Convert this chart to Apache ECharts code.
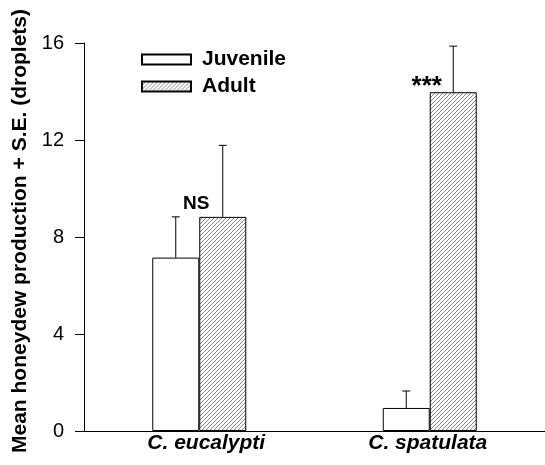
<!DOCTYPE html>
<html>
<head>
<meta charset="utf-8">
<script src="https://cdn.jsdelivr.net/npm/echarts@6/dist/echarts.min.js"></script>
<style>
  html, body { margin: 0; padding: 0; background: #fff; }
  #chart { width: 545px; height: 465px; }
</style>
</head>
<body>
<div id="chart"></div>
<script>
var categories = ['C. eucalypti', 'C. spatulata'];
var juvenile = [7.15, 0.95];
var juvenileSE = [1.68, 0.7];
var adult = [8.83, 13.97];
var adultSE = [2.95, 1.9];
var annotations = [[0, 9.35, 'NS', 19], [1, 14.2, '***', 26]];

// hatch pattern for the adult bars
var hatch = document.createElement('canvas');
hatch.width = 4;
hatch.height = 4;
var hc = hatch.getContext('2d');
hc.fillStyle = '#fff';
hc.fillRect(0, 0, 4, 4);
hc.strokeStyle = '#888';
hc.lineWidth = 1;
hc.beginPath();
hc.moveTo(-1, 5); hc.lineTo(5, -1);
hc.moveTo(-1, 1); hc.lineTo(1, -1);
hc.moveTo(3, 5); hc.lineTo(5, 3);
hc.stroke();

var chart = echarts.init(document.getElementById('chart'));
var barW = 47;
var font = 'Arial, Liberation Sans, sans-serif';

function errorSeries(means, ses, offset) {
    var data = [];
    for (var i = 0; i < means.length; i++) {
        data.push([i, means[i], means[i] + ses[i]]);
    }
    return {
        type: 'custom',
        z: 5,
        data: data,
        renderItem: function (params, api) {
            var lo = api.coord([api.value(0), api.value(1)]);
            var hi = api.coord([api.value(0), api.value(2)]);
            var x = lo[0] + offset;
            return {
                type: 'group',
                children: [
                    {type: 'line', shape: {x1: x, y1: lo[1], x2: x, y2: hi[1]}, style: {stroke: '#000', lineWidth: 1}},
                    {type: 'line', shape: {x1: x - 4, y1: hi[1], x2: x + 4, y2: hi[1]}, style: {stroke: '#000', lineWidth: 1}}
                ]
            };
        }
    };
}

// the labels in the original are not quite centred under the groups
var labelPad = [[0, 0, 0, 14], [0, 4, 0, 0]];
var xData = categories.map(function (c, i) {
    return {value: c, textStyle: {padding: labelPad[i]}};
});

chart.setOption({
    animation: false,
    backgroundColor: '#fff',
    grid: {left: 84, right: 0, top: 43, bottom: 34, outerBoundsMode: 'none', containLabel: false},
    legend: {
        orient: 'vertical',
        left: 136,
        top: 44,
        icon: 'rect',
        itemWidth: 49,
        itemHeight: 10,
        itemGap: 6,
        textStyle: {fontFamily: font, fontWeight: 'bold', fontSize: 21, color: '#000', padding: [0, 0, 0, 6]},
        data: ['Juvenile', 'Adult']
    },
    xAxis: {
        type: 'category',
        data: xData,
        axisLine: {lineStyle: {color: '#000', width: 1}},
        axisTick: {show: false},
        axisLabel: {fontFamily: font, fontWeight: 'bold', fontStyle: 'italic', fontSize: 21, color: '#000', margin: 2}
    },
    yAxis: {
        type: 'value',
        min: 0,
        max: 16,
        interval: 4,
        name: 'Mean honeydew production + S.E. (droplets)',
        nameLocation: 'middle',
        nameGap: 50,
        nameTextStyle: {fontFamily: font, fontWeight: 'bold', fontSize: 21, color: '#000', padding: [0, 0, 0, 12]},
        axisLine: {show: true, lineStyle: {color: '#000', width: 1}},
        axisTick: {show: true, length: 9, lineStyle: {color: '#000'}},
        axisLabel: {fontFamily: font, fontSize: 20, color: '#000', margin: 20},
        splitLine: {show: false}
    },
    series: [
        {
            name: 'Juvenile',
            type: 'bar',
            barWidth: barW,
            barGap: '0%',
            data: juvenile,
            itemStyle: {color: '#fff', borderColor: '#000', borderWidth: 1}
        },
        {
            name: 'Adult',
            type: 'bar',
            barWidth: barW,
            barGap: '0%',
            data: adult,
            itemStyle: {color: {image: hatch, repeat: 'repeat'}, borderColor: '#000', borderWidth: 1}
        },
        errorSeries(juvenile, juvenileSE, -barW / 2),
        errorSeries(adult, adultSE, barW / 2),
        {
            type: 'custom',
            z: 6,
            data: annotations,
            renderItem: function (params, api) {
                var p = api.coord([api.value(0), api.value(1)]);
                var a = annotations[params.dataIndex];
                return {
                    type: 'text',
                    x: p[0] - 3,
                    y: p[1],
                    style: {
                        text: a[2],
                        fontFamily: font,
                        fontWeight: 'bold',
                        fontSize: a[3],
                        fill: '#000',
                        align: 'center',
                        verticalAlign: 'middle'
                    }
                };
            }
        }
    ]
});
</script>
</body>
</html>
